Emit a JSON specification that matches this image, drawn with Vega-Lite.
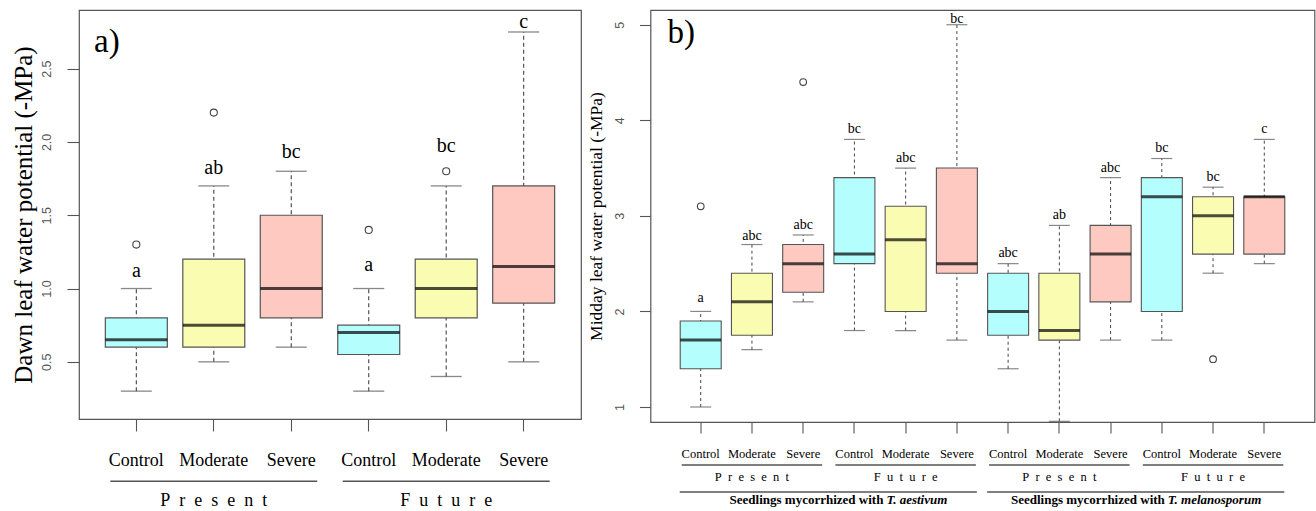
{
  "$schema": "https://vega.github.io/schema/vega-lite/v6.json",
  "padding": {"left": 10, "top": 9, "right": 2, "bottom": 0},
  "spacing": 3.5,
  "config": {
    "view": {"stroke": "#555", "strokeWidth": 1.2},
    "font": "Liberation Serif",
    "axis": {"grid": false, "domain": false, "tickColor": "#555", "tickWidth": 1.1, "labelColor": "#000", "titleColor": "#000", "titleFontWeight": "normal"}
  },
  "datasets": {
    "boxA": [
      {"cat": "Present|Control", "trt": "Control", "lo": 0.3, "q1": 0.6, "med": 0.65, "q3": 0.8, "hi": 1.0, "letter": "a", "ly": 1.08},
      {"cat": "Present|Moderate", "trt": "Moderate", "lo": 0.5, "q1": 0.6, "med": 0.75, "q3": 1.2, "hi": 1.7, "letter": "ab", "ly": 1.784},
      {"cat": "Present|Severe", "trt": "Severe", "lo": 0.6, "q1": 0.8, "med": 1.0, "q3": 1.5, "hi": 1.8, "letter": "bc", "ly": 1.889},
      {"cat": "Future|Control", "trt": "Control", "lo": 0.3, "q1": 0.55, "med": 0.7, "q3": 0.75, "hi": 1.0, "letter": "a", "ly": 1.12},
      {"cat": "Future|Moderate", "trt": "Moderate", "lo": 0.4, "q1": 0.8, "med": 1.0, "q3": 1.2, "hi": 1.7, "letter": "bc", "ly": 1.928},
      {"cat": "Future|Severe", "trt": "Severe", "lo": 0.5, "q1": 0.9, "med": 1.15, "q3": 1.7, "hi": 2.75, "letter": "c", "ly": 2.78}
    ],
    "outA": [
      {"cat": "Present|Control", "v": 1.3},
      {"cat": "Present|Moderate", "v": 2.2},
      {"cat": "Future|Control", "v": 1.4},
      {"cat": "Future|Moderate", "v": 1.8}
    ],
    "grpA": [
      {"label": "P\u2002r\u2002e\u2002s\u2002e\u2002n\u2002t", "c1": "Present|Control", "c2": "Present|Severe", "cm": "Present|Moderate"},
      {"label": "F\u2002u\u2002t\u2002u\u2002r\u2002e", "c1": "Future|Control", "c2": "Future|Severe", "cm": "Future|Moderate"}
    ],
    "boxB": [
      {"cat": "aes|Present|Control", "trt": "Control", "lo": 1.0, "q1": 1.4, "med": 1.7, "q3": 1.9, "hi": 2.0, "letter": "a", "ly": 2.1},
      {"cat": "aes|Present|Moderate", "trt": "Moderate", "lo": 1.6, "q1": 1.75, "med": 2.1, "q3": 2.4, "hi": 2.7, "letter": "abc", "ly": 2.745},
      {"cat": "aes|Present|Severe", "trt": "Severe", "lo": 2.1, "q1": 2.2, "med": 2.5, "q3": 2.7, "hi": 2.8, "letter": "abc", "ly": 2.867},
      {"cat": "aes|Future|Control", "trt": "Control", "lo": 1.8, "q1": 2.5, "med": 2.6, "q3": 3.4, "hi": 3.8, "letter": "bc", "ly": 3.862},
      {"cat": "aes|Future|Moderate", "trt": "Moderate", "lo": 1.8, "q1": 2.0, "med": 2.75, "q3": 3.1, "hi": 3.5, "letter": "abc", "ly": 3.565},
      {"cat": "aes|Future|Severe", "trt": "Severe", "lo": 1.7, "q1": 2.4, "med": 2.5, "q3": 3.5, "hi": 5.0, "letter": "bc", "ly": 5.015},
      {"cat": "mel|Present|Control", "trt": "Control", "lo": 1.4, "q1": 1.75, "med": 2.0, "q3": 2.4, "hi": 2.5, "letter": "abc", "ly": 2.571},
      {"cat": "mel|Present|Moderate", "trt": "Moderate", "lo": 0.85, "q1": 1.7, "med": 1.8, "q3": 2.4, "hi": 2.9, "letter": "ab", "ly": 2.965},
      {"cat": "mel|Present|Severe", "trt": "Severe", "lo": 1.7, "q1": 2.1, "med": 2.6, "q3": 2.9, "hi": 3.4, "letter": "abc", "ly": 3.461},
      {"cat": "mel|Future|Control", "trt": "Control", "lo": 1.7, "q1": 2.0, "med": 3.2, "q3": 3.4, "hi": 3.6, "letter": "bc", "ly": 3.663},
      {"cat": "mel|Future|Moderate", "trt": "Moderate", "lo": 2.4, "q1": 2.6, "med": 3.0, "q3": 3.2, "hi": 3.3, "letter": "bc", "ly": 3.367},
      {"cat": "mel|Future|Severe", "trt": "Severe", "lo": 2.5, "q1": 2.6, "med": 3.2, "q3": 3.2, "hi": 3.8, "letter": "c", "ly": 3.866}
    ],
    "outB": [
      {"cat": "aes|Present|Control", "v": 3.1},
      {"cat": "aes|Present|Severe", "v": 4.4},
      {"cat": "mel|Future|Moderate", "v": 1.5}
    ],
    "grpB": [
      {"label": "P\u2002r\u2002e\u2002s\u2002e\u2002n\u2002t", "c1": "aes|Present|Control", "c2": "aes|Present|Severe", "cm": "aes|Present|Moderate"},
      {"label": "F\u2002u\u2002t\u2002u\u2002r\u2002e", "c1": "aes|Future|Control", "c2": "aes|Future|Severe", "cm": "aes|Future|Moderate"},
      {"label": "P\u2002r\u2002e\u2002s\u2002e\u2002n\u2002t", "c1": "mel|Present|Control", "c2": "mel|Present|Severe", "cm": "mel|Present|Moderate"},
      {"label": "F\u2002u\u2002t\u2002u\u2002r\u2002e", "c1": "mel|Future|Control", "c2": "mel|Future|Severe", "cm": "mel|Future|Moderate"}
    ],
    "spB": [
      {"sp": "aes", "prefix": "Seedlings mycorrhized with ", "name": "T. aestivum", "c1": "aes|Present|Control", "c2": "aes|Future|Severe", "anchor": "aes|Future|Control"},
      {"sp": "mel", "prefix": "Seedlings mycorrhized with ", "name": "T. melanosporum", "c1": "mel|Present|Control", "c2": "mel|Future|Severe", "anchor": "mel|Future|Control"}
    ]
  },
  "hconcat": [
    {
      "width": 502,
      "height": 409,
      "title": {"text": "a)", "anchor": "start", "frame": "group", "fontSize": 33, "font": "Liberation Serif", "fontWeight": "normal", "color": "#000", "offset": -49, "dx": 15},
      "layer": [
        {
          "data": {"name": "boxA"},
          "mark": {"type": "rule", "strokeDash": [4, 3], "color": "#444", "strokeWidth": 1.1},
          "encoding": {
            "x": {"field": "cat", "type": "nominal", "title": null, "sort": null,
              "scale": {"domain": ["Present|Control", "Present|Moderate", "Present|Severe", "Future|Control", "Future|Moderate", "Future|Severe"], "paddingInner": 0.2, "paddingOuter": 0.34},
              "axis": {"labelExpr": "split(datum.label, '|')[1]", "labelAngle": 0, "tickSize": 12, "labelFontSize": 18, "labelFont": "Liberation Serif", "labelPadding": 20}},
            "y": {"field": "lo", "type": "quantitative", "title": "Dawn leaf water potential (-MPa)",
              "scale": {"domain": [0.11, 2.9], "nice": false, "zero": false},
              "axis": {"values": [0.5, 1, 1.5, 2, 2.5], "format": ".1f", "tickSize": 12, "labelAngle": 270, "labelFont": "Liberation Sans", "labelFontSize": 12.5, "labelColor": "#555", "labelPadding": 14, "titleFont": "Liberation Serif", "titleFontSize": 25, "titlePadding": 3.5}},
            "y2": {"field": "hi"}
          }
        },
        {
          "data": {"name": "boxA"},
          "mark": {"type": "tick", "size": 31, "thickness": 1.3, "color": "#555"},
          "encoding": {"x": {"field": "cat", "type": "nominal", "title": null}, "y": {"field": "lo", "type": "quantitative"}}
        },
        {
          "data": {"name": "boxA"},
          "mark": {"type": "tick", "size": 31, "thickness": 1.3, "color": "#555"},
          "encoding": {"x": {"field": "cat", "type": "nominal", "title": null}, "y": {"field": "hi", "type": "quantitative"}}
        },
        {
          "data": {"name": "boxA"},
          "mark": {"type": "bar", "stroke": "#555", "strokeWidth": 1.2},
          "encoding": {
            "x": {"field": "cat", "type": "nominal", "title": null},
            "y": {"field": "q1", "type": "quantitative"},
            "y2": {"field": "q3"},
            "fill": {"field": "trt", "type": "nominal", "legend": null, "scale": {"domain": ["Control", "Moderate", "Severe"], "range": ["#b4fefd", "#fafdb1", "#fdc9c0"]}}
          }
        },
        {
          "data": {"name": "boxA"},
          "mark": {"type": "tick", "size": 62, "thickness": 3, "color": "#000"},
          "encoding": {"x": {"field": "cat", "type": "nominal", "title": null}, "y": {"field": "med", "type": "quantitative"}}
        },
        {
          "data": {"name": "outA"},
          "mark": {"type": "point", "shape": "circle", "filled": false, "size": 50, "color": "#444", "strokeWidth": 1.1, "opacity": 1},
          "encoding": {"x": {"field": "cat", "type": "nominal", "title": null}, "y": {"field": "v", "type": "quantitative"}}
        },
        {
          "data": {"name": "boxA"},
          "mark": {"type": "text", "fontSize": 20, "font": "Liberation Serif", "baseline": "alphabetic", "align": "center", "color": "#000"},
          "encoding": {"x": {"field": "cat", "type": "nominal", "title": null}, "y": {"field": "ly", "type": "quantitative"}, "text": {"field": "letter"}}
        },
        {
          "data": {"name": "grpA"},
          "mark": {"type": "rule", "color": "#555", "strokeWidth": 1.6, "xOffset": -26, "x2Offset": 26},
          "encoding": {"x": {"field": "c1", "type": "nominal", "title": null}, "x2": {"field": "c2"}, "y": {"datum": -0.315}}
        },
        {
          "data": {"name": "grpA"},
          "mark": {"type": "text", "fontSize": 18, "font": "Liberation Serif", "baseline": "alphabetic", "align": "center", "color": "#000"},
          "encoding": {"x": {"field": "cm", "type": "nominal", "title": null}, "y": {"datum": -0.486}, "text": {"field": "label"}}
        }
      ]
    },
    {
      "width": 664,
      "height": 412,
      "title": {"text": "b)", "anchor": "start", "frame": "group", "fontSize": 33, "font": "Liberation Serif", "fontWeight": "normal", "color": "#000", "offset": -40, "dx": 17},
      "layer": [
        {
          "data": {"name": "boxB"},
          "mark": {"type": "rule", "strokeDash": [3, 3], "color": "#444", "strokeWidth": 1},
          "encoding": {
            "x": {"field": "cat", "type": "nominal", "title": null, "sort": null,
              "scale": {"domain": ["aes|Present|Control", "aes|Present|Moderate", "aes|Present|Severe", "aes|Future|Control", "aes|Future|Moderate", "aes|Future|Severe", "mel|Present|Control", "mel|Present|Moderate", "mel|Present|Severe", "mel|Future|Control", "mel|Future|Moderate", "mel|Future|Severe"], "paddingInner": 0.2, "paddingOuter": 0.58},
              "axis": {"labelExpr": "split(datum.label, '|')[2]", "labelAngle": 0, "tickSize": 11, "labelFontSize": 12.5, "labelFont": "Liberation Serif", "labelPadding": 14}},
            "y": {"field": "lo", "type": "quantitative", "title": "Midday leaf water potential (-MPa)",
              "scale": {"domain": [0.843, 5.154], "nice": false, "zero": false},
              "axis": {"values": [1, 2, 3, 4, 5], "format": "d", "tickSize": 11, "labelAngle": 270, "labelFont": "Liberation Sans", "labelFontSize": 12.5, "labelColor": "#555", "labelPadding": 13, "titleFont": "Liberation Serif", "titleFontSize": 17.5, "titlePadding": 8.5}},
            "y2": {"field": "hi"}
          }
        },
        {
          "data": {"name": "boxB"},
          "mark": {"type": "tick", "size": 21, "thickness": 1.2, "color": "#555"},
          "encoding": {"x": {"field": "cat", "type": "nominal", "title": null}, "y": {"field": "lo", "type": "quantitative"}}
        },
        {
          "data": {"name": "boxB"},
          "mark": {"type": "tick", "size": 21, "thickness": 1.2, "color": "#555"},
          "encoding": {"x": {"field": "cat", "type": "nominal", "title": null}, "y": {"field": "hi", "type": "quantitative"}}
        },
        {
          "data": {"name": "boxB"},
          "mark": {"type": "bar", "stroke": "#555", "strokeWidth": 1.1},
          "encoding": {
            "x": {"field": "cat", "type": "nominal", "title": null},
            "y": {"field": "q1", "type": "quantitative"},
            "y2": {"field": "q3"},
            "fill": {"field": "trt", "type": "nominal", "legend": null, "scale": {"domain": ["Control", "Moderate", "Severe"], "range": ["#b4fefd", "#fafdb1", "#fdc9c0"]}}
          }
        },
        {
          "data": {"name": "boxB"},
          "mark": {"type": "tick", "size": 41, "thickness": 3, "color": "#000"},
          "encoding": {"x": {"field": "cat", "type": "nominal", "title": null}, "y": {"field": "med", "type": "quantitative"}}
        },
        {
          "data": {"name": "outB"},
          "mark": {"type": "point", "shape": "circle", "filled": false, "size": 45, "color": "#444", "strokeWidth": 1.1, "opacity": 1},
          "encoding": {"x": {"field": "cat", "type": "nominal", "title": null}, "y": {"field": "v", "type": "quantitative"}}
        },
        {
          "data": {"name": "boxB"},
          "mark": {"type": "text", "fontSize": 14, "font": "Liberation Serif", "baseline": "alphabetic", "align": "center", "color": "#000"},
          "encoding": {"x": {"field": "cat", "type": "nominal", "title": null}, "y": {"field": "ly", "type": "quantitative"}, "text": {"field": "letter"}}
        },
        {
          "data": {"name": "grpB"},
          "mark": {"type": "rule", "color": "#555", "strokeWidth": 1.5, "xOffset": -19, "x2Offset": 19},
          "encoding": {"x": {"field": "c1", "type": "nominal", "title": null}, "x2": {"field": "c2"}, "y": {"datum": 0.393}}
        },
        {
          "data": {"name": "grpB"},
          "mark": {"type": "text", "fontSize": 12.5, "font": "Liberation Serif", "baseline": "alphabetic", "align": "center", "color": "#000"},
          "encoding": {"x": {"field": "cm", "type": "nominal", "title": null}, "y": {"datum": 0.225}, "text": {"field": "label"}}
        },
        {
          "data": {"name": "spB"},
          "mark": {"type": "rule", "color": "#555", "strokeWidth": 1.6, "xOffset": -21, "x2Offset": 20},
          "encoding": {"x": {"field": "c1", "type": "nominal", "title": null}, "x2": {"field": "c2"}, "y": {"datum": 0.11}}
        },
        {
          "data": {"name": "spB"},
          "transform": [{"filter": "datum.sp === 'aes'"}],
          "mark": {"type": "text", "fontSize": 13, "fontWeight": "bold", "font": "Liberation Serif", "baseline": "alphabetic", "align": "right", "dx": 29, "color": "#000"},
          "encoding": {"x": {"field": "anchor", "type": "nominal", "title": null}, "y": {"datum": -0.016}, "text": {"field": "prefix"}}
        },
        {
          "data": {"name": "spB"},
          "transform": [{"filter": "datum.sp === 'aes'"}],
          "mark": {"type": "text", "fontSize": 13, "fontWeight": "bold", "fontStyle": "italic", "font": "Liberation Serif", "baseline": "alphabetic", "align": "left", "dx": 32, "color": "#000"},
          "encoding": {"x": {"field": "anchor", "type": "nominal", "title": null}, "y": {"datum": -0.016}, "text": {"field": "name"}}
        },
        {
          "data": {"name": "spB"},
          "transform": [{"filter": "datum.sp === 'mel'"}],
          "mark": {"type": "text", "fontSize": 13, "fontWeight": "bold", "font": "Liberation Serif", "baseline": "alphabetic", "align": "right", "dx": 3, "color": "#000"},
          "encoding": {"x": {"field": "anchor", "type": "nominal", "title": null}, "y": {"datum": -0.016}, "text": {"field": "prefix"}}
        },
        {
          "data": {"name": "spB"},
          "transform": [{"filter": "datum.sp === 'mel'"}],
          "mark": {"type": "text", "fontSize": 13, "fontWeight": "bold", "fontStyle": "italic", "font": "Liberation Serif", "baseline": "alphabetic", "align": "left", "dx": 6, "color": "#000"},
          "encoding": {"x": {"field": "anchor", "type": "nominal", "title": null}, "y": {"datum": -0.016}, "text": {"field": "name"}}
        }
      ]
    }
  ]
}
